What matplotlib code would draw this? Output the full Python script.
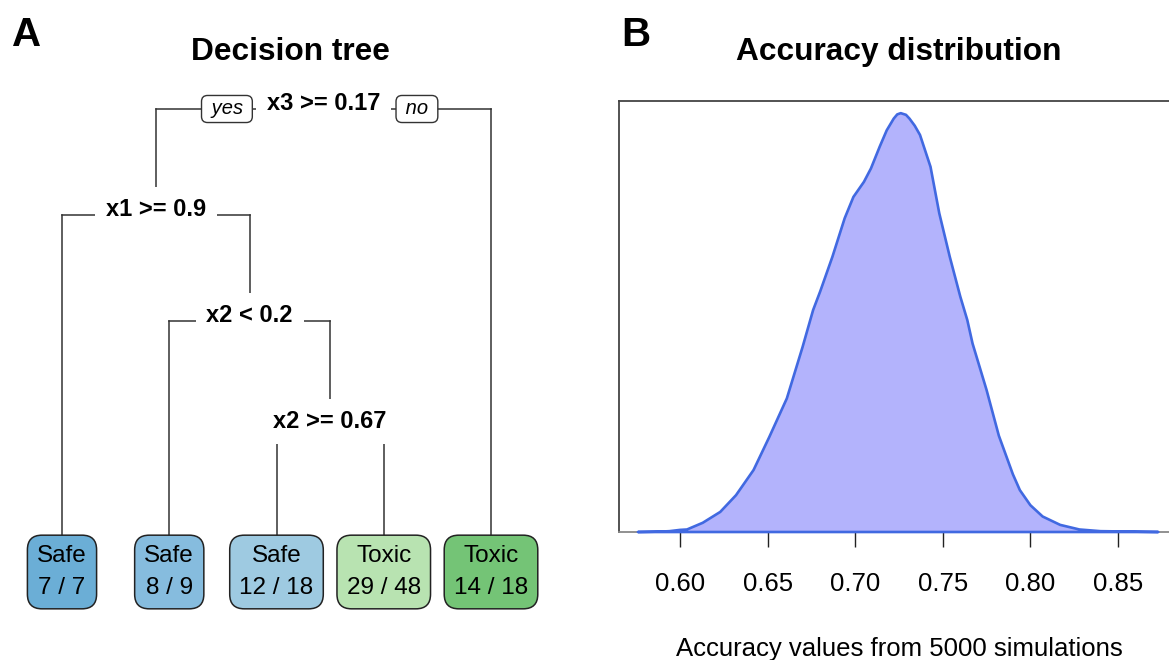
import numpy as np
import matplotlib.pyplot as plt

plt.rcParams['font.family'] = ['Liberation Sans', 'DejaVu Sans']

# decision tree (A)
split_labels = ['x3 >= 0.17', 'x1 >= 0.9', 'x2 < 0.2', 'x2 >= 0.67']
split_children = [('s1', 'l4'), ('l0', 's2'), ('l1', 's3'), ('l2', 'l3')]
leaf_class = ['Safe', 'Safe', 'Safe', 'Toxic', 'Toxic']
leaf_correct = [7, 8, 12, 29, 14]
leaf_total = [7, 9, 18, 48, 18]
leaf_colors = ['#6baed6', '#86bcde', '#9ecae1', '#b8e3b1', '#74c476']

# accuracy density (B)
acc_x = [0.576, 0.589, 0.594, 0.600, 0.604, 0.613, 0.623, 0.632, 0.642, 0.651,
         0.661, 0.670, 0.676, 0.680, 0.687, 0.694, 0.699, 0.705, 0.709, 0.714,
         0.718, 0.722, 0.724, 0.726, 0.729, 0.731, 0.734, 0.737, 0.743, 0.748,
         0.754, 0.760, 0.764, 0.767, 0.775, 0.782, 0.790, 0.794, 0.800, 0.807,
         0.817, 0.828, 0.840, 0.857, 0.873]
acc_dens = [0.00, 0.01, 0.02, 0.05, 0.06, 0.22, 0.48, 0.88, 1.48, 2.27,
            3.19, 4.42, 5.30, 5.74, 6.57, 7.49, 8.00, 8.36, 8.68, 9.20,
            9.59, 9.87, 9.97, 10.00, 9.96, 9.87, 9.70, 9.48, 8.72, 7.61,
            6.57, 5.62, 5.06, 4.50, 3.39, 2.30, 1.38, 1.00, 0.64, 0.37,
            0.17, 0.06, 0.02, 0.01, 0.00]
acc_ticks = [0.60, 0.65, 0.70, 0.75, 0.80, 0.85]

W, H = 1169, 660
fig = plt.figure(figsize=(W / 100, H / 100), dpi=100)

# ---- tree panel, drawn in pixel units ----
tr = fig.add_axes([0, 0, 1, 1])
tr.set_xlim(0, W)
tr.set_ylim(H, 0)
tr.axis('off')

LEAF_X0, LEAF_DX = 62, 107.25
ROOT_Y, LEVEL_DY = 109, 106
LEAF_TOP, LEAF_Y = 538, 572


def node_x(node):
    i = int(node[1:])
    if node[0] == 'l':
        return LEAF_X0 + i * LEAF_DX
    return np.mean([node_x(c) for c in split_children[i]])


depth = {0: 0}
for i, kids in enumerate(split_children):
    for c in kids:
        if c[0] == 's':
            depth[int(c[1:])] = depth[i] + 1

for i, kids in enumerate(split_children):
    x = node_x('s%d' % i)
    y = ROOT_Y + depth[i] * LEVEL_DY
    xs = [node_x(c) for c in kids]
    tr.plot(xs, [y, y], color='#333333', lw=1.1, zorder=1)
    for c, cx in zip(kids, xs):
        if c[0] == 's':
            cy = ROOT_Y + depth[int(c[1:])] * LEVEL_DY
        else:
            cy = LEAF_TOP
        tr.plot([cx, cx], [y, cy], color='#333333', lw=1.1, zorder=1)
    tr.text(x, y + 1, split_labels[i], ha='center', va='baseline', fontsize=17,
            fontweight='bold', zorder=3,
            bbox=dict(boxstyle='square,pad=0.45', fc='white', ec='none'))

root_x = node_x('s0')
for lab, dx in [(' yes ', -96.5), (' no ', 93.5)]:
    tr.text(root_x + dx, ROOT_Y, lab, ha='center', va='center', fontsize=14.5,
            style='italic', zorder=4,
            bbox=dict(boxstyle='round,pad=0.2,rounding_size=0.3', fc='white',
                      ec='#333333', lw=1))

for i in range(len(leaf_class)):
    tr.text(node_x('l%d' % i), LEAF_Y,
            '%s\n%d / %d' % (leaf_class[i], leaf_correct[i], leaf_total[i]),
            ha='center', va='center', fontsize=17.5, linespacing=1.6, zorder=3,
            bbox=dict(boxstyle='round,pad=0.4,rounding_size=0.6',
                      fc=leaf_colors[i], ec='#222222', lw=1.1))

fig.text(27 / W, 1 - 35 / H, 'A', ha='center', va='center', fontsize=29,
         fontweight='bold')
fig.text(290 / W, 1 - 52 / H, 'Decision tree', ha='center', va='center',
         fontsize=22.8, fontweight='bold')

# ---- density panel ----
ax = fig.add_axes([619 / W, 1 - 532 / H, 561 / W, 431 / H])
ax.fill(acc_x, acc_dens, fc='#b3b3fc', ec='#4169e1', lw=1.9, zorder=3,
        clip_on=False, joinstyle='round')
ax.set_xlim(0.5652, 0.8854)
ax.set_ylim(0, 10.29)
ax.set_yticks([])
ax.set_xticks(acc_ticks, labels=['%.2f' % t for t in acc_ticks], fontsize=18.5)
ax.tick_params(axis='x', length=11, width=1, pad=18, color='#222222')
ax.spines['right'].set_visible(False)
for s in ['left', 'top']:
    ax.spines[s].set_color('#444444')
    ax.spines[s].set_linewidth(1.3)
ax.spines['bottom'].set_color('#888888')
ax.spines['bottom'].set_linewidth(1.3)
ax.set_xlabel('Accuracy values from 5000 simulations', fontsize=18.5,
              labelpad=29)

fig.text(636 / W, 1 - 35 / H, 'B', ha='center', va='center', fontsize=29,
         fontweight='bold')
fig.text(899 / W, 1 - 52 / H, 'Accuracy distribution', ha='center',
         va='center', fontsize=22.8, fontweight='bold')

fig.savefig('out.png', dpi=100)
